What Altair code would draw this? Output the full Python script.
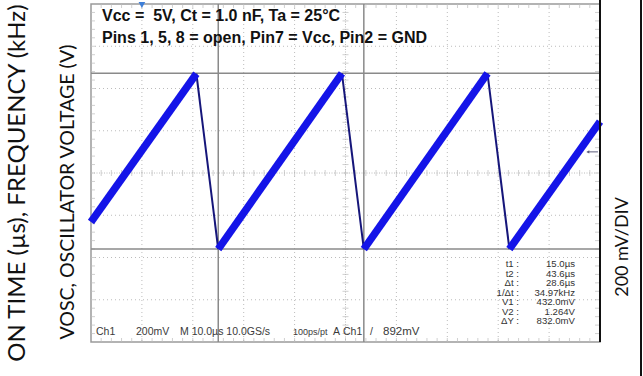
import altair as alt
import pandas as pd

# ---------------- data ----------------
# saw-tooth vertices: time (µs) and voltage (V)
trace_t = [-10.0, 10.7, 15.0, 39.3, 43.6, 67.9, 72.2, 90.0]
trace_v = [0.560, 1.262, 0.432, 1.264, 0.432, 1.264, 0.432, 1.035]

cursor_t = [15.0, 43.6]      # t1, t2 (µs)
cursor_v = [0.432, 1.264]    # V1, V2 (V)

t_domain = [-10.0, 90.0]     # 10 µs/div, 10 div
v_domain = [-0.008, 1.592]   # 200 mV/div, 8 div
time_grid = [0, 10, 20, 30, 50, 60, 70, 80]
center_t = 40
volt_grid = [0.192, 0.392, 0.592, 0.992, 1.192, 1.392]
center_v = 0.792
trigger_t = 0.0
trigger_v = 0.892

header_lines = ["Vcc =\u00a0 5V, Ct = 1.0 nF, Ta = 25°C",
                "Pins 1, 5, 8 = open, Pin7 = Vcc, Pin2 = GND"]
status_items = ["Ch1", "200mV", "M 10.0µs 10.0GS/s", "100ps/pt", "A", "Ch1", "/", "892mV"]
readout_labels = ["t1 :", "t2 :", "Δt :", "1/Δt :", "V1 :", "V2 :", "ΔY :"]
readout_values = ["15.0µs", "43.6µs", "28.6µs", "34.97kHz", "432.0mV", "1.264V", "832.0mV"]
left_title = "ON TIME (µs), FREQUENCY (kHz)"
left_title2 = "VOSC, OSCILLATOR VOLTAGE (V)"
right_title = "200 mV/DIV"

# ---------------- helpers ----------------
def xs(f):
    return alt.X(f"{f}:Q", scale=alt.Scale(domain=t_domain, nice=False, zero=False), axis=None)

def ys(f):
    return alt.Y(f"{f}:Q", scale=alt.Scale(domain=v_domain, nice=False, zero=False), axis=None)

seg = pd.DataFrame({"t": trace_t[:-1], "v": trace_v[:-1],
                    "t2": trace_t[1:], "v2": trace_v[1:]})
seg["rising"] = [b > a for a, b in zip(trace_v[:-1], trace_v[1:])]
ramps = seg[seg["rising"]]
drops = seg[~seg["rising"]]

grid_col = "#bcbcbc"
layers = []

# graticule
layers.append(alt.Chart(pd.DataFrame({"t": time_grid})).mark_rule(
    color=grid_col, strokeDash=[1, 3], strokeWidth=1).encode(x=xs("t")))
layers.append(alt.Chart(pd.DataFrame({"v": volt_grid})).mark_rule(
    color=grid_col, strokeDash=[1, 3], strokeWidth=1).encode(y=ys("v")))
layers.append(alt.Chart(pd.DataFrame({"t": [center_t]})).mark_rule(
    color=grid_col, strokeDash=[1, 1.5], strokeWidth=1).encode(x=xs("t")))
layers.append(alt.Chart(pd.DataFrame({"v": [center_v]})).mark_rule(
    color=grid_col, strokeDash=[1, 1.5], strokeWidth=1).encode(y=ys("v")))

# minor ticks on the centre lines
tick_t = [t_domain[0] + 2 * i for i in range(1, 50)]
tick_v = [round(v_domain[0] + 0.04 * i, 3) for i in range(1, 40)]
layers.append(alt.Chart(pd.DataFrame({"t": tick_t, "v": [center_v] * len(tick_t)})).mark_tick(
    orient="vertical", size=6, thickness=1, color=grid_col).encode(x=xs("t"), y=ys("v")))
layers.append(alt.Chart(pd.DataFrame({"t": [center_t] * len(tick_v), "v": tick_v})).mark_tick(
    orient="horizontal", size=6, thickness=1, color=grid_col).encode(x=xs("t"), y=ys("v")))
# border ticks
layers.append(alt.Chart(pd.DataFrame({"t": tick_t, "v": [v_domain[1]] * len(tick_t)})).mark_tick(
    orient="vertical", size=4, thickness=1, color=grid_col, yOffset=2).encode(x=xs("t"), y=ys("v")))
layers.append(alt.Chart(pd.DataFrame({"t": tick_t, "v": [v_domain[0]] * len(tick_t)})).mark_tick(
    orient="vertical", size=4, thickness=1, color=grid_col, yOffset=-2).encode(x=xs("t"), y=ys("v")))
layers.append(alt.Chart(pd.DataFrame({"t": [t_domain[1]] * len(tick_v), "v": tick_v})).mark_tick(
    orient="horizontal", size=4, thickness=1, color=grid_col, xOffset=-3).encode(x=xs("t"), y=ys("v")))
layers.append(alt.Chart(pd.DataFrame({"t": [t_domain[0]] * len(tick_v), "v": tick_v})).mark_tick(
    orient="horizontal", size=4, thickness=1, color=grid_col, xOffset=2).encode(x=xs("t"), y=ys("v")))

# cursors
layers.append(alt.Chart(pd.DataFrame({"t": cursor_t})).mark_rule(
    color="#8a8a8a", strokeWidth=1.5).encode(x=xs("t")))
layers.append(alt.Chart(pd.DataFrame({"v": cursor_v})).mark_rule(
    color="#8a8a8a", strokeWidth=1.5).encode(y=ys("v")))

# trace
layers.append(alt.Chart(drops).mark_rule(color="#16167a", strokeWidth=2).encode(
    x=xs("t"), x2="t2:Q", y=ys("v"), y2="v2:Q"))
layers.append(alt.Chart(ramps).mark_rule(color="#1414e8", strokeWidth=7.5, strokeCap="butt").encode(
    x=xs("t"), x2="t2:Q", y=ys("v"), y2="v2:Q"))

# trigger level arrow (right) and trigger position marker (top)
layers.append(alt.Chart(pd.DataFrame({"t": [87.6], "t2": [89.6], "v": [trigger_v]})).mark_rule(
    color="#5a5a7a", strokeWidth=1).encode(x=xs("t"), x2="t2:Q", y=ys("v")))
layers.append(alt.Chart(pd.DataFrame({"t": [87.6], "v": [trigger_v]})).mark_point(
    shape="triangle-left", filled=True, size=12, color="#5a5a7a", opacity=1).encode(x=xs("t"), y=ys("v")))
layers.append(alt.Chart(pd.DataFrame({"t": [trigger_t], "v": [v_domain[1]]})).mark_point(
    shape="triangle-down", filled=True, size=45, color="#3f7fd8", opacity=1, yOffset=1).encode(
    x=xs("t"), y=ys("v")))

# header text
for txt, yb in zip(header_lines, [16.5, 38.5]):
    layers.append(alt.Chart(pd.DataFrame({"s": [txt]})).mark_text(
        font="Liberation Sans", fontWeight="bold", fontSize=16, color="#111",
        align="left", baseline="alphabetic").encode(
        x=alt.value(11), y=alt.value(yb), text="s:N"))

# status line
status_x = [5, 45, 89, 202, 242, 252, 279, 292]
status_fs = [10.5, 10.5, 10.5, 9, 10.5, 10.5, 10.5, 11.5]
for txt, xp, fs in zip(status_items, status_x, status_fs):
    layers.append(alt.Chart(pd.DataFrame({"s": [txt]})).mark_text(
        font="Liberation Sans", fontSize=fs, color="#3a3a3a",
        align="left", baseline="alphabetic").encode(
        x=alt.value(xp), y=alt.value(331), text="s:N"))

# measurement readout (one row per text mark)
for i, (lab, val) in enumerate(zip(readout_labels, readout_values)):
    yb = 263 + 9.5 * i
    layers.append(alt.Chart(pd.DataFrame({"s": [lab]})).mark_text(
        font="Liberation Sans", fontSize=9.6, color="#333",
        align="right", baseline="alphabetic").encode(
        x=alt.value(428), y=alt.value(yb), text="s:N"))
    layers.append(alt.Chart(pd.DataFrame({"s": [val]})).mark_text(
        font="Liberation Sans", fontSize=9.6, color="#333",
        align="right", baseline="alphabetic").encode(
        x=alt.value(484), y=alt.value(yb), text="s:N"))

# outside titles
layers.append(alt.Chart(pd.DataFrame({"s": [left_title]})).mark_text(
    font="Lato", fontSize=24, color="#111", angle=270,
    align="center", baseline="middle").encode(
    x=alt.value(-73), y=alt.value(179), text="s:N"))
layers.append(alt.Chart(pd.DataFrame({"s": [left_title2]})).mark_text(
    font="Lato", fontSize=19.5, color="#111", angle=270,
    align="center", baseline="middle").encode(
    x=alt.value(-23), y=alt.value(188), text="s:N"))
layers.append(alt.Chart(pd.DataFrame({"s": [right_title]})).mark_text(
    font="Lato", fontSize=18, color="#111", angle=270,
    align="center", baseline="middle").encode(
    x=alt.value(532), y=alt.value(243), text="s:N"))

# frame lines: black right border of the screen and outer right edge
layers.append(alt.Chart(pd.DataFrame({"s": [0]})).mark_rule(color="#111", strokeWidth=2).encode(
    x=alt.value(509), y=alt.value(-4), y2=alt.value(338)))
layers.append(alt.Chart(pd.DataFrame({"s": [0]})).mark_rule(color="#111", strokeWidth=2).encode(
    x=alt.value(550), y=alt.value(-4), y2=alt.value(372)))

chart = alt.layer(*layers).properties(
    width=509, height=338,
    padding={"left": 91, "top": 4, "right": 43, "bottom": 34},
    autosize=alt.AutoSizeParams(type="none"),
    background="white",
).configure_view(stroke="#9a9a9a", strokeWidth=1.5)

chart.save("out.html", embed_options={"renderer": "svg", "actions": False})
